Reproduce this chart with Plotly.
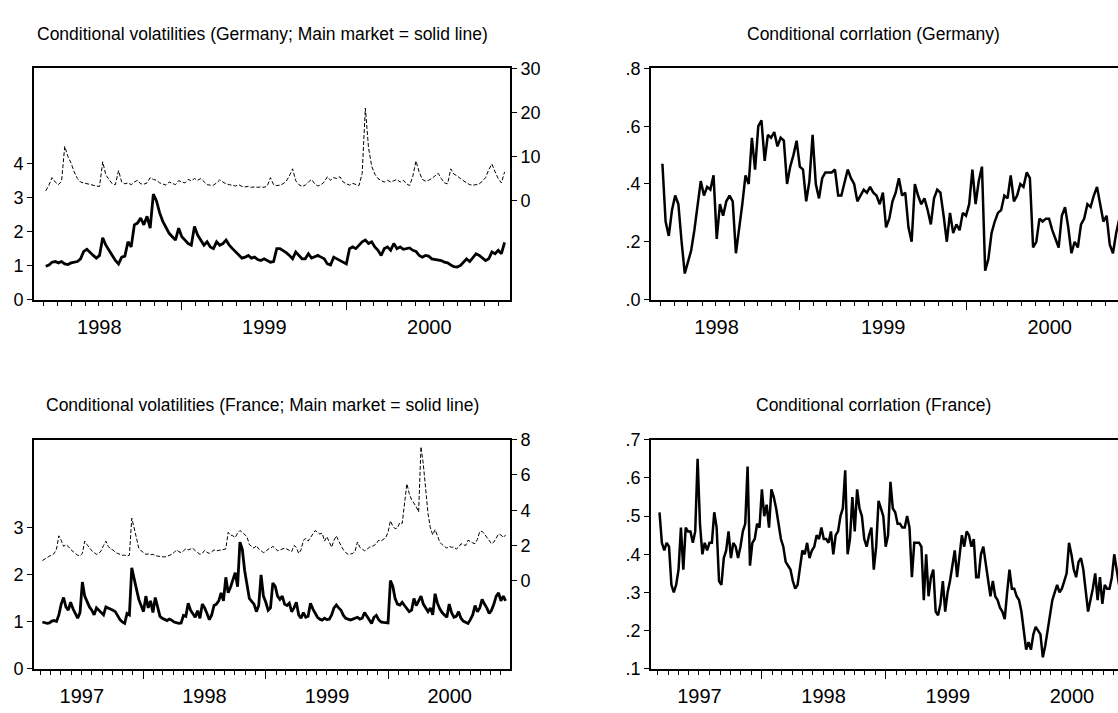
import pandas as pd
import plotly.graph_objects as go

de_dates = pd.date_range("1998-03-06", periods=146, freq="7D")
fr_dates = pd.date_range("1997-03-07", periods=198, freq="7D")

de_main_vol = [0.98, 1.02, 1.10, 1.12, 1.08, 1.12, 1.05, 1.03, 1.08, 1.10,
               1.12, 1.20, 1.42, 1.48, 1.38, 1.30, 1.22, 1.30, 1.82, 1.60,
               1.45, 1.30, 1.15, 1.05, 1.25, 1.28, 1.70, 1.55, 2.20, 2.25,
               2.40, 2.20, 2.45, 2.10, 3.10, 2.90, 2.55, 2.30, 2.10, 1.95,
               1.85, 1.75, 2.10, 1.85, 1.75, 1.65, 1.60, 2.15, 1.90, 1.75,
               1.60, 1.70, 1.55, 1.50, 1.70, 1.60, 1.65, 1.75, 1.60, 1.50,
               1.40, 1.30, 1.22, 1.25, 1.30, 1.22, 1.25, 1.18, 1.15, 1.20,
               1.15, 1.10, 1.12, 1.50, 1.50, 1.45, 1.38, 1.30, 1.20, 1.40,
               1.30, 1.20, 1.20, 1.35, 1.22, 1.25, 1.30, 1.25, 1.20, 1.05,
               1.02, 1.25, 1.20, 1.15, 1.12, 1.05, 1.50, 1.55, 1.50, 1.60,
               1.70, 1.75, 1.65, 1.70, 1.55, 1.45, 1.30, 1.50, 1.55, 1.45,
               1.65, 1.50, 1.55, 1.48, 1.50, 1.52, 1.45, 1.42, 1.30, 1.25,
               1.30, 1.28, 1.20, 1.18, 1.15, 1.15, 1.10, 1.08, 1.02, 0.97,
               0.96, 1.00, 1.10, 1.20, 1.12, 1.25, 1.35, 1.30, 1.22, 1.15,
               1.20, 1.40, 1.35, 1.45, 1.35, 1.68]

de_sub_vol = [2.2, 3.5, 5.2, 4.2, 3.6, 4.4, 12.3, 10.0, 8.5, 6.5,
              5.0, 4.2, 4.0, 3.8, 3.6, 3.5, 3.3, 3.2, 8.8, 5.8,
              4.8, 3.8, 3.6, 6.8, 4.2, 3.8, 4.0, 3.6, 4.2, 4.6,
              3.8, 3.7, 4.0, 5.2, 4.8, 4.6, 4.0, 3.8, 3.5, 4.2,
              3.9, 3.6, 4.5, 4.2, 4.0, 4.8, 4.5, 5.0, 4.6, 5.0,
              4.2, 3.6, 3.5, 3.5, 4.0, 4.7, 4.2, 3.8, 3.6, 3.4,
              3.3, 3.6, 3.2, 3.1, 3.2, 3.0, 3.1, 3.0, 3.1, 3.0,
              3.3, 5.2, 3.6, 3.4, 3.5, 3.8, 4.4, 5.6, 7.2, 4.5,
              3.6, 3.2, 3.5, 4.2, 4.8, 3.8, 3.3, 3.6, 4.2, 5.4,
              4.6, 5.2, 5.0, 5.4, 4.2, 3.8, 3.5, 3.9, 3.6, 3.4,
              6.2, 21.0, 12.0, 7.8, 6.0, 5.0, 4.5, 4.2, 4.6, 4.2,
              4.5, 4.8, 4.2, 4.6, 3.8, 3.4, 5.5, 9.0, 6.5, 4.8,
              4.4, 4.6, 5.0, 5.6, 6.2, 5.0, 4.0, 3.8, 7.2, 6.0,
              5.6, 5.0, 4.4, 4.0, 3.6, 3.5, 3.6, 3.8, 4.4, 5.2,
              7.0, 8.3, 6.5, 5.0, 4.0, 6.5]

de_corr = [0.47, 0.27, 0.22, 0.31, 0.36, 0.33, 0.20, 0.09, 0.13, 0.17,
           0.24, 0.32, 0.41, 0.36, 0.39, 0.38, 0.43, 0.21, 0.33, 0.29,
           0.34, 0.36, 0.34, 0.16, 0.24, 0.33, 0.43, 0.40, 0.56, 0.45,
           0.60, 0.62, 0.48, 0.57, 0.56, 0.58, 0.53, 0.56, 0.55, 0.40,
           0.46, 0.50, 0.55, 0.46, 0.45, 0.34, 0.41, 0.57, 0.40, 0.35,
           0.42, 0.44, 0.44, 0.44, 0.45, 0.36, 0.36, 0.41, 0.45, 0.42,
           0.40, 0.34, 0.36, 0.38, 0.37, 0.39, 0.37, 0.36, 0.33, 0.37,
           0.25, 0.28, 0.34, 0.37, 0.42, 0.36, 0.37, 0.25, 0.20, 0.40,
           0.36, 0.33, 0.35, 0.31, 0.26, 0.35, 0.38, 0.37, 0.29, 0.20,
           0.30, 0.23, 0.26, 0.24, 0.30, 0.29, 0.33, 0.45, 0.33, 0.41,
           0.46, 0.10, 0.14, 0.23, 0.27, 0.30, 0.31, 0.36, 0.35, 0.43,
           0.34, 0.36, 0.40, 0.39, 0.44, 0.42, 0.18, 0.20, 0.28, 0.27,
           0.28, 0.28, 0.24, 0.21, 0.18, 0.29, 0.32, 0.25, 0.16, 0.20,
           0.18, 0.26, 0.28, 0.33, 0.32, 0.36, 0.39, 0.33, 0.27, 0.29,
           0.19, 0.16, 0.23, 0.28, 0.30, 0.32]

fr_main_vol = [1.00, 0.98, 0.97, 0.98, 1.02, 1.03, 1.01, 1.15, 1.38, 1.52,
               1.32, 1.25, 1.42, 1.28, 1.18, 1.08, 1.20, 1.85, 1.55, 1.42,
               1.32, 1.25, 1.15, 1.30, 1.25, 1.18, 1.15, 1.32, 1.30, 1.28,
               1.25, 1.22, 1.12, 1.05, 1.00, 0.97, 1.18, 1.15, 2.15, 1.95,
               1.70, 1.48, 1.35, 1.22, 1.55, 1.30, 1.45, 1.20, 1.52, 1.32,
               1.12, 1.08, 1.06, 1.03, 1.06, 1.04, 1.00, 0.98, 0.97, 0.98,
               1.14, 1.12, 1.40, 1.25, 1.18, 1.10, 1.24, 1.08, 1.38, 1.30,
               1.18, 1.05, 1.15, 1.35, 1.38, 1.45, 1.62, 1.45, 1.95, 1.62,
               1.74, 1.90, 2.05, 1.75, 2.70, 2.55, 2.10, 1.80, 1.50, 1.44,
               1.38, 1.22, 1.35, 2.00, 1.55, 1.42, 1.25, 1.30, 1.83, 1.76,
               1.55, 1.48, 1.55, 1.38, 1.35, 1.40, 1.22, 1.30, 1.42, 1.15,
               1.08, 1.20, 1.10, 1.12, 1.40, 1.28, 1.18, 1.10, 1.06, 1.04,
               1.08, 1.05, 1.06, 1.15, 1.30, 1.36, 1.30, 1.25, 1.14, 1.08,
               1.06, 1.04, 1.06, 1.08, 1.10, 1.06, 1.08, 1.20, 1.12, 1.05,
               0.97, 1.10, 1.14, 1.05, 1.00, 0.99, 0.98, 0.98, 1.88, 1.76,
               1.50, 1.38, 1.36, 1.42, 1.35, 1.28, 1.22, 1.25, 1.50, 1.35,
               1.45, 1.55, 1.38, 1.30, 1.22, 1.30, 1.15, 1.60, 1.40, 1.28,
               1.20, 1.15, 1.10, 1.38, 1.20, 1.10, 1.12, 1.22, 1.08, 1.02,
               0.99, 0.97, 1.05, 1.15, 1.35, 1.22, 1.30, 1.48, 1.38, 1.30,
               1.18, 1.25, 1.38, 1.55, 1.62, 1.45, 1.55, 1.45]

fr_sub_vol = [1.15, 1.25, 1.35, 1.40, 1.45, 1.55, 1.80, 2.55, 2.30, 1.95,
              2.05, 1.95, 1.78, 1.65, 1.55, 1.45, 1.42, 1.55, 2.25, 2.05,
              1.85, 1.70, 1.60, 1.50, 1.55, 1.70, 2.00, 2.25, 1.95, 1.80,
              1.75, 1.62, 1.55, 1.50, 1.45, 1.45, 1.40, 1.45, 3.55, 3.00,
              2.35, 1.85, 1.70, 1.60, 1.50, 1.52, 1.48, 1.50, 1.42, 1.40,
              1.38, 1.36, 1.35, 1.38, 1.42, 1.50, 1.60, 1.75, 1.65, 1.60,
              1.70, 1.82, 1.75, 1.80, 1.85, 1.70, 1.60, 1.50, 1.55, 1.72,
              1.62, 1.55, 1.65, 1.75, 1.70, 1.72, 1.75, 1.78, 1.80, 2.75,
              2.60, 2.55, 2.45, 2.70, 2.85, 2.75, 2.65, 2.50, 2.05, 1.95,
              1.85, 2.00, 1.80, 1.70, 1.60, 1.65, 1.80, 1.85, 1.95, 1.85,
              1.70, 1.75, 1.80, 1.85, 1.80, 1.70, 1.65, 2.00, 1.90, 1.55,
              1.75, 2.30, 2.40, 2.25, 2.45, 2.60, 2.85, 2.75, 2.65, 2.70,
              2.25, 2.50, 2.15, 1.90, 2.30, 2.55, 2.25, 1.95, 1.75, 1.60,
              1.50, 1.52, 1.55, 1.70, 2.20, 1.90, 1.80, 1.70, 1.78, 1.90,
              1.95, 2.00, 2.10, 2.30, 2.25, 2.35, 2.45, 2.75, 3.40, 3.10,
              2.95, 3.00, 3.30, 3.25, 4.30, 5.50, 4.95, 4.60, 4.40, 4.20,
              3.90, 7.60, 6.60, 5.20, 3.80, 3.00, 2.60, 2.90, 2.55, 2.20,
              2.05, 1.95, 1.85, 1.95, 1.90, 1.92, 1.80, 1.90, 2.10, 2.05,
              2.00, 2.30, 2.20, 2.15, 2.10, 2.35, 2.80, 2.80, 2.65, 2.45,
              2.30, 2.10, 2.20, 2.45, 2.65, 2.60, 2.45, 2.60]

fr_corr = [0.51, 0.43, 0.41, 0.43, 0.42, 0.32, 0.30, 0.32, 0.36, 0.47,
           0.36, 0.47, 0.46, 0.46, 0.43, 0.46, 0.65, 0.48, 0.40, 0.43,
           0.41, 0.43, 0.43, 0.51, 0.47, 0.33, 0.32, 0.39, 0.41, 0.46,
           0.39, 0.43, 0.42, 0.39, 0.42, 0.46, 0.48, 0.63, 0.37, 0.43,
           0.44, 0.48, 0.47, 0.57, 0.50, 0.53, 0.47, 0.57, 0.55, 0.52,
           0.48, 0.44, 0.42, 0.38, 0.37, 0.36, 0.33, 0.31, 0.32, 0.37,
           0.41, 0.40, 0.43, 0.39, 0.41, 0.42, 0.45, 0.44, 0.47, 0.44,
           0.44, 0.43, 0.46, 0.40, 0.45, 0.46, 0.50, 0.52, 0.62, 0.40,
           0.44, 0.55, 0.46, 0.57, 0.52, 0.50, 0.44, 0.42, 0.45, 0.47,
           0.36, 0.42, 0.54, 0.52, 0.50, 0.42, 0.45, 0.59, 0.52, 0.51,
           0.48, 0.48, 0.47, 0.47, 0.50, 0.47, 0.34, 0.43, 0.43, 0.43,
           0.42, 0.28, 0.40, 0.29, 0.34, 0.36, 0.25, 0.24, 0.27, 0.33,
           0.25, 0.30, 0.33, 0.37, 0.41, 0.34, 0.40, 0.45, 0.42, 0.46,
           0.45, 0.42, 0.44, 0.34, 0.34, 0.40, 0.42, 0.38, 0.34, 0.29,
           0.33, 0.29, 0.28, 0.26, 0.25, 0.23, 0.30, 0.36, 0.31, 0.31,
           0.29, 0.28, 0.25, 0.20, 0.15, 0.17, 0.15, 0.19, 0.21, 0.20,
           0.19, 0.13, 0.16, 0.20, 0.24, 0.28, 0.30, 0.32, 0.30, 0.31,
           0.33, 0.35, 0.43, 0.40, 0.36, 0.34, 0.38, 0.39, 0.36, 0.31,
           0.25, 0.28, 0.31, 0.35, 0.28, 0.34, 0.27, 0.32, 0.31, 0.31,
           0.34, 0.40, 0.36, 0.32, 0.34, 0.33, 0.35, 0.34]

titles = ["Conditional volatilities (Germany; Main market = solid line)",
          "Conditional corrlation (Germany)",
          "Conditional volatilities (France; Main market = solid line)",
          "Conditional corrlation (France)"]

# ---------------- figure ----------------
W, H = 1118, 713
FONT = "Liberation Sans, Arial, sans-serif"
BLACK = "#000000"


def px_x(p):
    return p / W


def px_y(p):
    return 1 - p / H


fig = go.Figure()
fig.add_trace(go.Scatter(x=de_dates, y=de_main_vol, mode="lines",
                         line=dict(color=BLACK, width=2.8), xaxis="x", yaxis="y"))
fig.add_trace(go.Scatter(x=de_dates, y=de_sub_vol, mode="lines",
                         line=dict(color=BLACK, width=1, dash="4px,2px"), xaxis="x", yaxis="y2"))
fig.add_trace(go.Scatter(x=de_dates, y=de_corr, mode="lines",
                         line=dict(color=BLACK, width=2.5), xaxis="x2", yaxis="y3"))
fig.add_trace(go.Scatter(x=fr_dates, y=fr_main_vol, mode="lines",
                         line=dict(color=BLACK, width=2.8), xaxis="x3", yaxis="y4"))
fig.add_trace(go.Scatter(x=fr_dates, y=fr_sub_vol, mode="lines",
                         line=dict(color=BLACK, width=1, dash="4px,2px"), xaxis="x3", yaxis="y5"))
fig.add_trace(go.Scatter(x=fr_dates, y=fr_corr, mode="lines",
                         line=dict(color=BLACK, width=2.5), xaxis="x4", yaxis="y6"))


def xaxis(domain, rng, anchor):
    return dict(domain=domain, range=rng, anchor=anchor, type="date",
                showline=True, linecolor=BLACK, linewidth=2, mirror=True,
                showgrid=False, zeroline=False,
                ticks="outside", ticklen=8, tickwidth=1, tickcolor=BLACK,
                dtick="M12", tick0="1997-01-01", ticklabelmode="period",
                tickformat="%Y", tickfont=dict(family=FONT, size=20, color=BLACK),
                minor=dict(ticks="outside", ticklen=4, tickwidth=1, tickcolor=BLACK,
                           dtick="M1", tick0="1997-01-01", showgrid=False))


def yaxis(domain, rng, vals, texts, anchor, side="left", overlaying=None, mirror=False):
    d = dict(domain=domain, range=rng, anchor=anchor, side=side,
             showline=True, linecolor=BLACK, linewidth=2, mirror=mirror,
             showgrid=False, zeroline=False,
             ticks="outside", ticklen=5, tickwidth=1, tickcolor=BLACK,
             tickmode="array", tickvals=vals, ticktext=texts,
             tickfont=dict(family=FONT, size=18, color=BLACK))
    if overlaying:
        d["overlaying"] = overlaying
    return d


top = [px_y(298), px_y(60)]
bot = [px_y(678), px_y(442)]
left = [px_x(34), px_x(510)]
right = [px_x(651), 1.0]

fig.update_layout(
    width=W, height=H, margin=dict(l=0, r=0, t=0, b=0),
    paper_bgcolor="white", plot_bgcolor="white", showlegend=False,
    xaxis=xaxis(left, ["1998-02-08", "2000-12-27"], "y"),
    yaxis=yaxis(top, [0, 6.8], [0, 1, 2, 3, 4], ["0", "1", "2", "3", "4"], "x"),
    yaxis2=yaxis(top, [-22.5, 30.02], [0, 10, 20, 30], ["0", "10", "20", "30"], "x",
                 side="right", overlaying="y"),
    xaxis2=xaxis(right, ["1998-02-09", "2000-11-28"], "y3"),
    yaxis3=yaxis(top, [-0.0005, 0.8005], [0, 0.2, 0.4, 0.6, 0.8],
                 [".0", ".2", ".4", ".6", ".8"], "x2"),
    xaxis3=xaxis(left, ["1997-02-10", "2000-12-28"], "y4"),
    yaxis4=yaxis(bot, [0, 4.88], [0, 1, 2, 3], ["0", "1", "2", "3"], "x3"),
    yaxis5=yaxis(bot, [-5, 8.005], [0, 2, 4, 6, 8], ["0", "2", "4", "6", "8"], "x3",
                 side="right", overlaying="y4"),
    xaxis4=xaxis(right, ["1997-02-10", "2000-11-14"], "y6"),
    yaxis6=yaxis(bot, [0.0995, 0.7005], [0.1, 0.2, 0.3, 0.4, 0.5, 0.6, 0.7],
                 [".1", ".2", ".3", ".4", ".5", ".6", ".7"], "x4"),
)

title_pos = [(262, 25), (873, 25), (262, 406), (873, 406)]
for t, (cx, cy) in zip(titles, title_pos):
    fig.add_annotation(text=t, x=px_x(cx), y=px_y(cy), xref="paper", yref="paper",
                       xanchor="center", yanchor="middle", showarrow=False,
                       font=dict(family=FONT, size=17.5, color=BLACK))

fig.write_html("out.html", config={"displayModeBar": False})

with open("out.html", "r", encoding="utf-8") as f:
    html = f.read()
html = html.replace("<head>", "<head><style>html,body{margin:0;padding:0;overflow:hidden;}</style>", 1)
with open("out.html", "w", encoding="utf-8") as f:
    f.write(html)
